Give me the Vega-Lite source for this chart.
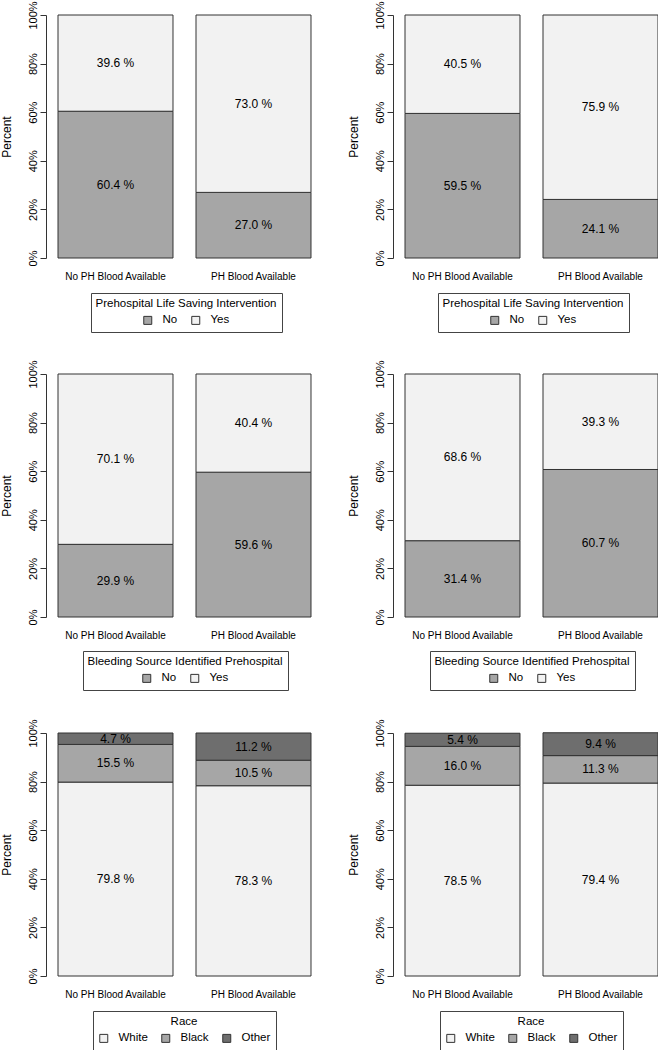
{
  "$schema": "https://vega.github.io/schema/vega-lite/v6.json",
  "data": {"values": [
    {"panel": "p1", "group": "No PH Blood Available", "cat": "No", "level": 1, "pct": 60.4},
    {"panel": "p1", "group": "No PH Blood Available", "cat": "Yes", "level": 2, "pct": 39.6},
    {"panel": "p1", "group": "PH Blood Available", "cat": "No", "level": 1, "pct": 27.0},
    {"panel": "p1", "group": "PH Blood Available", "cat": "Yes", "level": 2, "pct": 73.0},
    {"panel": "p2", "group": "No PH Blood Available", "cat": "No", "level": 1, "pct": 59.5},
    {"panel": "p2", "group": "No PH Blood Available", "cat": "Yes", "level": 2, "pct": 40.5},
    {"panel": "p2", "group": "PH Blood Available", "cat": "No", "level": 1, "pct": 24.1},
    {"panel": "p2", "group": "PH Blood Available", "cat": "Yes", "level": 2, "pct": 75.9},
    {"panel": "p3", "group": "No PH Blood Available", "cat": "No", "level": 1, "pct": 29.9},
    {"panel": "p3", "group": "No PH Blood Available", "cat": "Yes", "level": 2, "pct": 70.1},
    {"panel": "p3", "group": "PH Blood Available", "cat": "No", "level": 1, "pct": 59.6},
    {"panel": "p3", "group": "PH Blood Available", "cat": "Yes", "level": 2, "pct": 40.4},
    {"panel": "p4", "group": "No PH Blood Available", "cat": "No", "level": 1, "pct": 31.4},
    {"panel": "p4", "group": "No PH Blood Available", "cat": "Yes", "level": 2, "pct": 68.6},
    {"panel": "p4", "group": "PH Blood Available", "cat": "No", "level": 1, "pct": 60.7},
    {"panel": "p4", "group": "PH Blood Available", "cat": "Yes", "level": 2, "pct": 39.3},
    {"panel": "p5", "group": "No PH Blood Available", "cat": "White", "level": 1, "pct": 79.8},
    {"panel": "p5", "group": "No PH Blood Available", "cat": "Black", "level": 2, "pct": 15.5},
    {"panel": "p5", "group": "No PH Blood Available", "cat": "Other", "level": 3, "pct": 4.7},
    {"panel": "p5", "group": "PH Blood Available", "cat": "White", "level": 1, "pct": 78.3},
    {"panel": "p5", "group": "PH Blood Available", "cat": "Black", "level": 2, "pct": 10.5},
    {"panel": "p5", "group": "PH Blood Available", "cat": "Other", "level": 3, "pct": 11.2},
    {"panel": "p6", "group": "No PH Blood Available", "cat": "White", "level": 1, "pct": 78.5},
    {"panel": "p6", "group": "No PH Blood Available", "cat": "Black", "level": 2, "pct": 16.0},
    {"panel": "p6", "group": "No PH Blood Available", "cat": "Other", "level": 3, "pct": 5.4},
    {"panel": "p6", "group": "PH Blood Available", "cat": "White", "level": 1, "pct": 79.4},
    {"panel": "p6", "group": "PH Blood Available", "cat": "Black", "level": 2, "pct": 11.3},
    {"panel": "p6", "group": "PH Blood Available", "cat": "Other", "level": 3, "pct": 9.4}
  ]},
  "padding": {"left": 0, "top": 0, "right": 0, "bottom": 0},
  "bounds": "flush",
  "columns": 2,
  "spacing": {"row": 116, "column": 70},
  "concat": [
    {
      "width": 277, "height": 243,
      "transform": [{"filter": "datum.panel == 'p1'"}],
      "encoding": {
        "x": {"field": "group", "type": "nominal", "sort": ["No PH Blood Available", "PH Blood Available"], "scale": {"paddingInner": 0.1667, "paddingOuter": 0.087}},
        "y": {"field": "pct", "type": "quantitative", "stack": "zero", "scale": {"domain": [0, 100], "nice": false}, "axis": {"values": [0, 20, 40, 60, 80, 100], "labelExpr": "datum.value + '%'", "title": "Percent"}},
        "order": {"field": "level", "type": "quantitative"}
      },
      "layer": [
        {"mark": {"type": "bar", "stroke": "#333", "strokeWidth": 1},
         "encoding": {"color": {"field": "cat", "type": "nominal", "scale": {"domain": ["No", "Yes"], "range": ["#a6a6a6", "#f2f2f2"]}, "legend": {"title": "Prehospital Life Saving Intervention", "orient": "none", "legendX": 45, "legendY": 278}}}},
        {"mark": {"type": "text", "text": {"expr": "format(datum.pct, '.1f') + ' %'"}},
         "encoding": {"y": {"field": "pct", "type": "quantitative", "stack": "zero", "bandPosition": 0.5}, "detail": {"field": "cat"}}}
      ]
    },
    {
      "width": 277, "height": 243,
      "transform": [{"filter": "datum.panel == 'p2'"}],
      "encoding": {
        "x": {"field": "group", "type": "nominal", "sort": ["No PH Blood Available", "PH Blood Available"], "scale": {"paddingInner": 0.1667, "paddingOuter": 0.087}},
        "y": {"field": "pct", "type": "quantitative", "stack": "zero", "scale": {"domain": [0, 100], "nice": false}, "axis": {"values": [0, 20, 40, 60, 80, 100], "labelExpr": "datum.value + '%'", "title": "Percent"}},
        "order": {"field": "level", "type": "quantitative"}
      },
      "layer": [
        {"mark": {"type": "bar", "stroke": "#333", "strokeWidth": 1},
         "encoding": {"color": {"field": "cat", "type": "nominal", "scale": {"domain": ["No", "Yes"], "range": ["#a6a6a6", "#f2f2f2"]}, "legend": {"title": "Prehospital Life Saving Intervention", "orient": "none", "legendX": 45, "legendY": 278}}}},
        {"mark": {"type": "text", "text": {"expr": "format(datum.pct, '.1f') + ' %'"}},
         "encoding": {"y": {"field": "pct", "type": "quantitative", "stack": "zero", "bandPosition": 0.5}, "detail": {"field": "cat"}}}
      ]
    },
    {
      "width": 277, "height": 243,
      "transform": [{"filter": "datum.panel == 'p3'"}],
      "encoding": {
        "x": {"field": "group", "type": "nominal", "sort": ["No PH Blood Available", "PH Blood Available"], "scale": {"paddingInner": 0.1667, "paddingOuter": 0.087}},
        "y": {"field": "pct", "type": "quantitative", "stack": "zero", "scale": {"domain": [0, 100], "nice": false}, "axis": {"values": [0, 20, 40, 60, 80, 100], "labelExpr": "datum.value + '%'", "title": "Percent"}},
        "order": {"field": "level", "type": "quantitative"}
      },
      "layer": [
        {"mark": {"type": "bar", "stroke": "#333", "strokeWidth": 1},
         "encoding": {"color": {"field": "cat", "type": "nominal", "scale": {"domain": ["No", "Yes"], "range": ["#a6a6a6", "#f2f2f2"]}, "legend": {"title": "Bleeding Source Identified Prehospital", "orient": "none", "legendX": 37, "legendY": 277}}}},
        {"mark": {"type": "text", "text": {"expr": "format(datum.pct, '.1f') + ' %'"}},
         "encoding": {"y": {"field": "pct", "type": "quantitative", "stack": "zero", "bandPosition": 0.5}, "detail": {"field": "cat"}}}
      ]
    },
    {
      "width": 277, "height": 243,
      "transform": [{"filter": "datum.panel == 'p4'"}],
      "encoding": {
        "x": {"field": "group", "type": "nominal", "sort": ["No PH Blood Available", "PH Blood Available"], "scale": {"paddingInner": 0.1667, "paddingOuter": 0.087}},
        "y": {"field": "pct", "type": "quantitative", "stack": "zero", "scale": {"domain": [0, 100], "nice": false}, "axis": {"values": [0, 20, 40, 60, 80, 100], "labelExpr": "datum.value + '%'", "title": "Percent"}},
        "order": {"field": "level", "type": "quantitative"}
      },
      "layer": [
        {"mark": {"type": "bar", "stroke": "#333", "strokeWidth": 1},
         "encoding": {"color": {"field": "cat", "type": "nominal", "scale": {"domain": ["No", "Yes"], "range": ["#a6a6a6", "#f2f2f2"]}, "legend": {"title": "Bleeding Source Identified Prehospital", "orient": "none", "legendX": 37, "legendY": 277}}}},
        {"mark": {"type": "text", "text": {"expr": "format(datum.pct, '.1f') + ' %'"}},
         "encoding": {"y": {"field": "pct", "type": "quantitative", "stack": "zero", "bandPosition": 0.5}, "detail": {"field": "cat"}}}
      ]
    },
    {
      "width": 277, "height": 243,
      "transform": [{"filter": "datum.panel == 'p5'"}],
      "encoding": {
        "x": {"field": "group", "type": "nominal", "sort": ["No PH Blood Available", "PH Blood Available"], "scale": {"paddingInner": 0.1667, "paddingOuter": 0.087}},
        "y": {"field": "pct", "type": "quantitative", "stack": "zero", "scale": {"domain": [0, 100], "nice": false}, "axis": {"values": [0, 20, 40, 60, 80, 100], "labelExpr": "datum.value + '%'", "title": "Percent"}},
        "order": {"field": "level", "type": "quantitative"}
      },
      "layer": [
        {"mark": {"type": "bar", "stroke": "#333", "strokeWidth": 1},
         "encoding": {"color": {"field": "cat", "type": "nominal", "scale": {"domain": ["White", "Black", "Other"], "range": ["#f2f2f2", "#a6a6a6", "#6e6e6e"]}, "legend": {"title": "Race", "orient": "none", "legendX": 47, "legendY": 278}}}},
        {"mark": {"type": "text", "text": {"expr": "format(datum.pct, '.1f') + ' %'"}},
         "encoding": {"y": {"field": "pct", "type": "quantitative", "stack": "zero", "bandPosition": 0.5}, "detail": {"field": "cat"}}}
      ]
    },
    {
      "width": 277, "height": 243,
      "transform": [{"filter": "datum.panel == 'p6'"}],
      "encoding": {
        "x": {"field": "group", "type": "nominal", "sort": ["No PH Blood Available", "PH Blood Available"], "scale": {"paddingInner": 0.1667, "paddingOuter": 0.087}},
        "y": {"field": "pct", "type": "quantitative", "stack": "zero", "scale": {"domain": [0, 100], "nice": false}, "axis": {"values": [0, 20, 40, 60, 80, 100], "labelExpr": "datum.value + '%'", "title": "Percent"}},
        "order": {"field": "level", "type": "quantitative"}
      },
      "layer": [
        {"mark": {"type": "bar", "stroke": "#333", "strokeWidth": 1},
         "encoding": {"color": {"field": "cat", "type": "nominal", "scale": {"domain": ["White", "Black", "Other"], "range": ["#f2f2f2", "#a6a6a6", "#6e6e6e"]}, "legend": {"title": "Race", "orient": "none", "legendX": 47, "legendY": 278}}}},
        {"mark": {"type": "text", "text": {"expr": "format(datum.pct, '.1f') + ' %'"}},
         "encoding": {"y": {"field": "pct", "type": "quantitative", "stack": "zero", "bandPosition": 0.5}, "detail": {"field": "cat"}}}
      ]
    }
  ],
  "resolve": {"scale": {"color": "independent", "x": "independent", "y": "independent"}, "legend": {"color": "independent"}},
  "config": {
    "font": "Liberation Sans",
    "view": {"stroke": null},
    "axis": {"labelColor": "#000", "titleColor": "#000", "domainColor": "#333", "tickColor": "#333", "grid": false, "titleFontWeight": "normal"},
    "axisY": {"tickSize": 6, "labelFontSize": 11, "labelAngle": 270, "labelAlign": "center", "labelBaseline": "bottom", "labelPadding": 2, "titleFontSize": 12, "titlePadding": 14},
    "axisX": {"domain": false, "ticks": false, "labelFontSize": 10, "labelAngle": 0, "labelPadding": 13, "title": null},
    "legend": {"direction": "horizontal", "titleAnchor": "middle", "titleFontWeight": "normal", "titleFontSize": 11.5, "labelFontSize": 11.5, "titleLimit": 400, "titleColor": "#000", "labelColor": "#000", "strokeColor": "#444", "padding": 5, "symbolType": "square", "symbolSize": 64, "symbolStrokeColor": "#333", "symbolStrokeWidth": 1, "labelOffset": 9, "columnPadding": 11, "titlePadding": 5},
    "text": {"fontSize": 12, "color": "#000"}
  }
}
